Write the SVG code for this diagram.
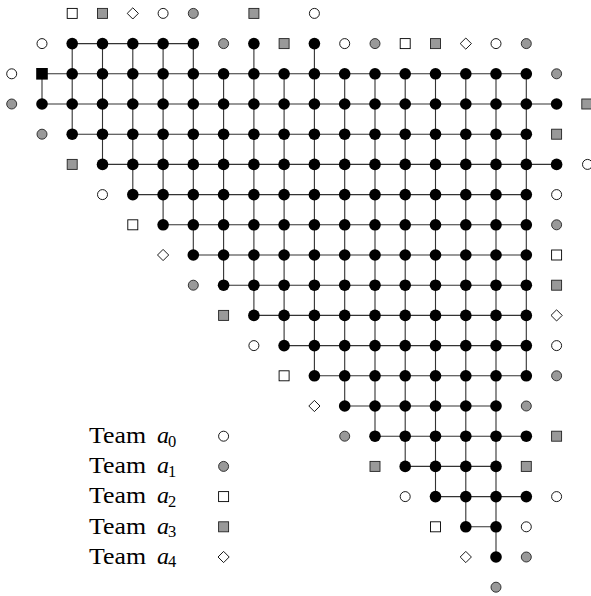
<svg xmlns="http://www.w3.org/2000/svg" xmlns:xlink="http://www.w3.org/1999/xlink" width="591" height="596" viewBox="0 0 591 596">
<style>
.edge{fill:none;stroke:#333;stroke-width:1.1}
.blk{fill:#000}
.wht{fill:#fff;stroke:#000;stroke-width:0.9}
.gry{fill:#999;stroke:#222;stroke-width:0.9}
.lbl{font-family:"Liberation Serif","Times New Roman",serif;font-size:24px;fill:#000}
.it{font-style:italic}
.sub{font-size:16.5px}
</style>
<defs>
<circle id="B" r="5.8" class="blk"/>
<rect id="K" x="-5.8" y="-5.8" width="11.6" height="11.6" class="blk"/>
<circle id="O" r="5" class="wht"/>
<circle id="G" r="5" class="gry"/>
<rect id="S" x="-5" y="-5" width="10" height="10" class="wht"/>
<rect id="Q" x="-5" y="-5" width="10" height="10" class="gry"/>
<path id="D" d="M0 -5.6 L5.6 0 L0 5.6 L-5.6 0Z" class="wht"/>
</defs>
<rect width="591" height="596" fill="#fff"/>
<g id="connectors" class="edge">
<path d="M72.2 43.6H193.3M42 73.8H526.3M42 104H556.6M72.2 134.2H526.3M102.5 164.4H556.6M132.8 194.6H526.3M163.1 224.8H526.3M193.3 255H526.3M223.6 285.2H526.3M253.9 315.4H526.3M284.1 345.6H526.3M314.4 375.8H526.3M344.7 406H496M375 436.2H526.3M405.2 466.4H496M435.5 496.6H526.3M465.8 526.8H496"/>
<path d="M42 73.8V104M72.2 43.6V134.2M102.5 43.6V164.4M132.8 43.6V194.6M163.1 43.6V224.8M193.3 43.6V255M223.6 73.8V285.2M253.9 43.6V315.4M284.1 73.8V345.6M314.4 43.6V375.8M344.7 73.8V406M375 73.8V436.2M405.2 73.8V466.4M435.5 73.8V496.6M465.8 73.8V526.8M496 73.8V557M526.3 73.8V375.8"/>
</g>
<g id="markers">
<g id="m0_2"><use href="#S" x="72.2" y="13.4"/></g>
<g id="m0_3"><use href="#Q" x="102.5" y="13.4"/></g>
<g id="m0_4"><use href="#D" x="132.8" y="13.4"/></g>
<g id="m0_5"><use href="#O" x="163.1" y="13.4"/></g>
<g id="m0_6"><use href="#G" x="193.3" y="13.4"/></g>
<g id="m0_8"><use href="#Q" x="253.9" y="13.4"/></g>
<g id="m0_10"><use href="#O" x="314.4" y="13.4"/></g>
<g id="m1_1"><use href="#O" x="42" y="43.6"/></g>
<g id="m1_7"><use href="#G" x="223.6" y="43.6"/></g>
<g id="m1_9"><use href="#Q" x="284.1" y="43.6"/></g>
<g id="m1_11"><use href="#O" x="344.7" y="43.6"/></g>
<g id="m1_12"><use href="#G" x="375" y="43.6"/></g>
<g id="m1_13"><use href="#S" x="405.2" y="43.6"/></g>
<g id="m1_14"><use href="#Q" x="435.5" y="43.6"/></g>
<g id="m1_15"><use href="#D" x="465.8" y="43.6"/></g>
<g id="m1_16"><use href="#O" x="496" y="43.6"/></g>
<g id="m1_17"><use href="#G" x="526.3" y="43.6"/></g>
<g id="m2_0"><use href="#O" x="11.7" y="73.8"/></g>
<g id="m2_18"><use href="#G" x="556.6" y="73.8"/></g>
<g id="m3_0"><use href="#G" x="11.7" y="104"/></g>
<g id="m3_19"><use href="#Q" x="586.8" y="104"/></g>
<g id="m4_1"><use href="#G" x="42" y="134.2"/></g>
<g id="m4_18"><use href="#Q" x="556.6" y="134.2"/></g>
<g id="m5_2"><use href="#Q" x="72.2" y="164.4"/></g>
<g id="m5_19"><use href="#O" x="587.5" y="164.4"/></g>
<g id="m6_3"><use href="#O" x="102.5" y="194.6"/></g>
<g id="m6_18"><use href="#O" x="556.6" y="194.6"/></g>
<g id="m7_4"><use href="#S" x="132.8" y="224.8"/></g>
<g id="m7_18"><use href="#G" x="556.6" y="224.8"/></g>
<g id="m8_5"><use href="#D" x="163.1" y="255"/></g>
<g id="m8_18"><use href="#S" x="556.6" y="255"/></g>
<g id="m9_6"><use href="#G" x="193.3" y="285.2"/></g>
<g id="m9_18"><use href="#Q" x="556.6" y="285.2"/></g>
<g id="m10_7"><use href="#Q" x="223.6" y="315.4"/></g>
<g id="m10_18"><use href="#D" x="556.6" y="315.4"/></g>
<g id="m11_8"><use href="#O" x="253.9" y="345.6"/></g>
<g id="m11_18"><use href="#O" x="556.6" y="345.6"/></g>
<g id="m12_9"><use href="#S" x="284.1" y="375.8"/></g>
<g id="m12_18"><use href="#G" x="556.6" y="375.8"/></g>
<g id="m13_10"><use href="#D" x="314.4" y="406"/></g>
<g id="m13_17"><use href="#G" x="526.3" y="406"/></g>
<g id="m14_11"><use href="#G" x="344.7" y="436.2"/></g>
<g id="m14_18"><use href="#Q" x="556.6" y="436.2"/></g>
<g id="m15_12"><use href="#Q" x="375" y="466.4"/></g>
<g id="m15_17"><use href="#Q" x="526.3" y="466.4"/></g>
<g id="m16_13"><use href="#O" x="405.2" y="496.6"/></g>
<g id="m16_18"><use href="#O" x="556.6" y="496.6"/></g>
<g id="m17_14"><use href="#S" x="435.5" y="526.8"/></g>
<g id="m17_17"><use href="#O" x="526.3" y="526.8"/></g>
<g id="m18_15"><use href="#D" x="465.8" y="557"/></g>
<g id="m18_17"><use href="#G" x="526.3" y="557"/></g>
<g id="m19_16"><use href="#G" x="496" y="587.2"/></g>
</g>
<g id="nodes">
<g id="n1_2"><use href="#B" x="72.2" y="43.6"/></g>
<g id="n1_3"><use href="#B" x="102.5" y="43.6"/></g>
<g id="n1_4"><use href="#B" x="132.8" y="43.6"/></g>
<g id="n1_5"><use href="#B" x="163.1" y="43.6"/></g>
<g id="n1_6"><use href="#B" x="193.3" y="43.6"/></g>
<g id="n1_8"><use href="#B" x="253.9" y="43.6"/></g>
<g id="n1_10"><use href="#B" x="314.4" y="43.6"/></g>
<g id="n2_1"><use href="#K" x="42" y="73.8"/></g>
<g id="n2_2"><use href="#B" x="72.2" y="73.8"/></g>
<g id="n2_3"><use href="#B" x="102.5" y="73.8"/></g>
<g id="n2_4"><use href="#B" x="132.8" y="73.8"/></g>
<g id="n2_5"><use href="#B" x="163.1" y="73.8"/></g>
<g id="n2_6"><use href="#B" x="193.3" y="73.8"/></g>
<g id="n2_7"><use href="#B" x="223.6" y="73.8"/></g>
<g id="n2_8"><use href="#B" x="253.9" y="73.8"/></g>
<g id="n2_9"><use href="#B" x="284.1" y="73.8"/></g>
<g id="n2_10"><use href="#B" x="314.4" y="73.8"/></g>
<g id="n2_11"><use href="#B" x="344.7" y="73.8"/></g>
<g id="n2_12"><use href="#B" x="375" y="73.8"/></g>
<g id="n2_13"><use href="#B" x="405.2" y="73.8"/></g>
<g id="n2_14"><use href="#B" x="435.5" y="73.8"/></g>
<g id="n2_15"><use href="#B" x="465.8" y="73.8"/></g>
<g id="n2_16"><use href="#B" x="496" y="73.8"/></g>
<g id="n2_17"><use href="#B" x="526.3" y="73.8"/></g>
<g id="n3_1"><use href="#B" x="42" y="104"/></g>
<g id="n3_2"><use href="#B" x="72.2" y="104"/></g>
<g id="n3_3"><use href="#B" x="102.5" y="104"/></g>
<g id="n3_4"><use href="#B" x="132.8" y="104"/></g>
<g id="n3_5"><use href="#B" x="163.1" y="104"/></g>
<g id="n3_6"><use href="#B" x="193.3" y="104"/></g>
<g id="n3_7"><use href="#B" x="223.6" y="104"/></g>
<g id="n3_8"><use href="#B" x="253.9" y="104"/></g>
<g id="n3_9"><use href="#B" x="284.1" y="104"/></g>
<g id="n3_10"><use href="#B" x="314.4" y="104"/></g>
<g id="n3_11"><use href="#B" x="344.7" y="104"/></g>
<g id="n3_12"><use href="#B" x="375" y="104"/></g>
<g id="n3_13"><use href="#B" x="405.2" y="104"/></g>
<g id="n3_14"><use href="#B" x="435.5" y="104"/></g>
<g id="n3_15"><use href="#B" x="465.8" y="104"/></g>
<g id="n3_16"><use href="#B" x="496" y="104"/></g>
<g id="n3_17"><use href="#B" x="526.3" y="104"/></g>
<g id="n3_18"><use href="#B" x="556.6" y="104"/></g>
<g id="n4_2"><use href="#B" x="72.2" y="134.2"/></g>
<g id="n4_3"><use href="#B" x="102.5" y="134.2"/></g>
<g id="n4_4"><use href="#B" x="132.8" y="134.2"/></g>
<g id="n4_5"><use href="#B" x="163.1" y="134.2"/></g>
<g id="n4_6"><use href="#B" x="193.3" y="134.2"/></g>
<g id="n4_7"><use href="#B" x="223.6" y="134.2"/></g>
<g id="n4_8"><use href="#B" x="253.9" y="134.2"/></g>
<g id="n4_9"><use href="#B" x="284.1" y="134.2"/></g>
<g id="n4_10"><use href="#B" x="314.4" y="134.2"/></g>
<g id="n4_11"><use href="#B" x="344.7" y="134.2"/></g>
<g id="n4_12"><use href="#B" x="375" y="134.2"/></g>
<g id="n4_13"><use href="#B" x="405.2" y="134.2"/></g>
<g id="n4_14"><use href="#B" x="435.5" y="134.2"/></g>
<g id="n4_15"><use href="#B" x="465.8" y="134.2"/></g>
<g id="n4_16"><use href="#B" x="496" y="134.2"/></g>
<g id="n4_17"><use href="#B" x="526.3" y="134.2"/></g>
<g id="n5_3"><use href="#B" x="102.5" y="164.4"/></g>
<g id="n5_4"><use href="#B" x="132.8" y="164.4"/></g>
<g id="n5_5"><use href="#B" x="163.1" y="164.4"/></g>
<g id="n5_6"><use href="#B" x="193.3" y="164.4"/></g>
<g id="n5_7"><use href="#B" x="223.6" y="164.4"/></g>
<g id="n5_8"><use href="#B" x="253.9" y="164.4"/></g>
<g id="n5_9"><use href="#B" x="284.1" y="164.4"/></g>
<g id="n5_10"><use href="#B" x="314.4" y="164.4"/></g>
<g id="n5_11"><use href="#B" x="344.7" y="164.4"/></g>
<g id="n5_12"><use href="#B" x="375" y="164.4"/></g>
<g id="n5_13"><use href="#B" x="405.2" y="164.4"/></g>
<g id="n5_14"><use href="#B" x="435.5" y="164.4"/></g>
<g id="n5_15"><use href="#B" x="465.8" y="164.4"/></g>
<g id="n5_16"><use href="#B" x="496" y="164.4"/></g>
<g id="n5_17"><use href="#B" x="526.3" y="164.4"/></g>
<g id="n5_18"><use href="#B" x="556.6" y="164.4"/></g>
<g id="n6_4"><use href="#B" x="132.8" y="194.6"/></g>
<g id="n6_5"><use href="#B" x="163.1" y="194.6"/></g>
<g id="n6_6"><use href="#B" x="193.3" y="194.6"/></g>
<g id="n6_7"><use href="#B" x="223.6" y="194.6"/></g>
<g id="n6_8"><use href="#B" x="253.9" y="194.6"/></g>
<g id="n6_9"><use href="#B" x="284.1" y="194.6"/></g>
<g id="n6_10"><use href="#B" x="314.4" y="194.6"/></g>
<g id="n6_11"><use href="#B" x="344.7" y="194.6"/></g>
<g id="n6_12"><use href="#B" x="375" y="194.6"/></g>
<g id="n6_13"><use href="#B" x="405.2" y="194.6"/></g>
<g id="n6_14"><use href="#B" x="435.5" y="194.6"/></g>
<g id="n6_15"><use href="#B" x="465.8" y="194.6"/></g>
<g id="n6_16"><use href="#B" x="496" y="194.6"/></g>
<g id="n6_17"><use href="#B" x="526.3" y="194.6"/></g>
<g id="n7_5"><use href="#B" x="163.1" y="224.8"/></g>
<g id="n7_6"><use href="#B" x="193.3" y="224.8"/></g>
<g id="n7_7"><use href="#B" x="223.6" y="224.8"/></g>
<g id="n7_8"><use href="#B" x="253.9" y="224.8"/></g>
<g id="n7_9"><use href="#B" x="284.1" y="224.8"/></g>
<g id="n7_10"><use href="#B" x="314.4" y="224.8"/></g>
<g id="n7_11"><use href="#B" x="344.7" y="224.8"/></g>
<g id="n7_12"><use href="#B" x="375" y="224.8"/></g>
<g id="n7_13"><use href="#B" x="405.2" y="224.8"/></g>
<g id="n7_14"><use href="#B" x="435.5" y="224.8"/></g>
<g id="n7_15"><use href="#B" x="465.8" y="224.8"/></g>
<g id="n7_16"><use href="#B" x="496" y="224.8"/></g>
<g id="n7_17"><use href="#B" x="526.3" y="224.8"/></g>
<g id="n8_6"><use href="#B" x="193.3" y="255"/></g>
<g id="n8_7"><use href="#B" x="223.6" y="255"/></g>
<g id="n8_8"><use href="#B" x="253.9" y="255"/></g>
<g id="n8_9"><use href="#B" x="284.1" y="255"/></g>
<g id="n8_10"><use href="#B" x="314.4" y="255"/></g>
<g id="n8_11"><use href="#B" x="344.7" y="255"/></g>
<g id="n8_12"><use href="#B" x="375" y="255"/></g>
<g id="n8_13"><use href="#B" x="405.2" y="255"/></g>
<g id="n8_14"><use href="#B" x="435.5" y="255"/></g>
<g id="n8_15"><use href="#B" x="465.8" y="255"/></g>
<g id="n8_16"><use href="#B" x="496" y="255"/></g>
<g id="n8_17"><use href="#B" x="526.3" y="255"/></g>
<g id="n9_7"><use href="#B" x="223.6" y="285.2"/></g>
<g id="n9_8"><use href="#B" x="253.9" y="285.2"/></g>
<g id="n9_9"><use href="#B" x="284.1" y="285.2"/></g>
<g id="n9_10"><use href="#B" x="314.4" y="285.2"/></g>
<g id="n9_11"><use href="#B" x="344.7" y="285.2"/></g>
<g id="n9_12"><use href="#B" x="375" y="285.2"/></g>
<g id="n9_13"><use href="#B" x="405.2" y="285.2"/></g>
<g id="n9_14"><use href="#B" x="435.5" y="285.2"/></g>
<g id="n9_15"><use href="#B" x="465.8" y="285.2"/></g>
<g id="n9_16"><use href="#B" x="496" y="285.2"/></g>
<g id="n9_17"><use href="#B" x="526.3" y="285.2"/></g>
<g id="n10_8"><use href="#B" x="253.9" y="315.4"/></g>
<g id="n10_9"><use href="#B" x="284.1" y="315.4"/></g>
<g id="n10_10"><use href="#B" x="314.4" y="315.4"/></g>
<g id="n10_11"><use href="#B" x="344.7" y="315.4"/></g>
<g id="n10_12"><use href="#B" x="375" y="315.4"/></g>
<g id="n10_13"><use href="#B" x="405.2" y="315.4"/></g>
<g id="n10_14"><use href="#B" x="435.5" y="315.4"/></g>
<g id="n10_15"><use href="#B" x="465.8" y="315.4"/></g>
<g id="n10_16"><use href="#B" x="496" y="315.4"/></g>
<g id="n10_17"><use href="#B" x="526.3" y="315.4"/></g>
<g id="n11_9"><use href="#B" x="284.1" y="345.6"/></g>
<g id="n11_10"><use href="#B" x="314.4" y="345.6"/></g>
<g id="n11_11"><use href="#B" x="344.7" y="345.6"/></g>
<g id="n11_12"><use href="#B" x="375" y="345.6"/></g>
<g id="n11_13"><use href="#B" x="405.2" y="345.6"/></g>
<g id="n11_14"><use href="#B" x="435.5" y="345.6"/></g>
<g id="n11_15"><use href="#B" x="465.8" y="345.6"/></g>
<g id="n11_16"><use href="#B" x="496" y="345.6"/></g>
<g id="n11_17"><use href="#B" x="526.3" y="345.6"/></g>
<g id="n12_10"><use href="#B" x="314.4" y="375.8"/></g>
<g id="n12_11"><use href="#B" x="344.7" y="375.8"/></g>
<g id="n12_12"><use href="#B" x="375" y="375.8"/></g>
<g id="n12_13"><use href="#B" x="405.2" y="375.8"/></g>
<g id="n12_14"><use href="#B" x="435.5" y="375.8"/></g>
<g id="n12_15"><use href="#B" x="465.8" y="375.8"/></g>
<g id="n12_16"><use href="#B" x="496" y="375.8"/></g>
<g id="n12_17"><use href="#B" x="526.3" y="375.8"/></g>
<g id="n13_11"><use href="#B" x="344.7" y="406"/></g>
<g id="n13_12"><use href="#B" x="375" y="406"/></g>
<g id="n13_13"><use href="#B" x="405.2" y="406"/></g>
<g id="n13_14"><use href="#B" x="435.5" y="406"/></g>
<g id="n13_15"><use href="#B" x="465.8" y="406"/></g>
<g id="n13_16"><use href="#B" x="496" y="406"/></g>
<g id="n14_12"><use href="#B" x="375" y="436.2"/></g>
<g id="n14_13"><use href="#B" x="405.2" y="436.2"/></g>
<g id="n14_14"><use href="#B" x="435.5" y="436.2"/></g>
<g id="n14_15"><use href="#B" x="465.8" y="436.2"/></g>
<g id="n14_16"><use href="#B" x="496" y="436.2"/></g>
<g id="n14_17"><use href="#B" x="526.3" y="436.2"/></g>
<g id="n15_13"><use href="#B" x="405.2" y="466.4"/></g>
<g id="n15_14"><use href="#B" x="435.5" y="466.4"/></g>
<g id="n15_15"><use href="#B" x="465.8" y="466.4"/></g>
<g id="n15_16"><use href="#B" x="496" y="466.4"/></g>
<g id="n16_14"><use href="#B" x="435.5" y="496.6"/></g>
<g id="n16_15"><use href="#B" x="465.8" y="496.6"/></g>
<g id="n16_16"><use href="#B" x="496" y="496.6"/></g>
<g id="n16_17"><use href="#B" x="526.3" y="496.6"/></g>
<g id="n17_15"><use href="#B" x="465.8" y="526.8"/></g>
<g id="n17_16"><use href="#B" x="496" y="526.8"/></g>
<g id="n18_16"><use href="#B" x="496" y="557"/></g>
</g>
<g id="legend">
<g id="leg0"><text class="lbl" x="89" y="443"><tspan textLength="57" lengthAdjust="spacingAndGlyphs">Team</tspan> <tspan class="it" x="157">a</tspan><tspan class="sub" x="168" dy="3.5">0</tspan></text><use href="#O" x="223.6" y="436.2"/></g>
<g id="leg1"><text class="lbl" x="89" y="473.2"><tspan textLength="57" lengthAdjust="spacingAndGlyphs">Team</tspan> <tspan class="it" x="157">a</tspan><tspan class="sub" x="168" dy="3.5">1</tspan></text><use href="#G" x="223.6" y="466.4"/></g>
<g id="leg2"><text class="lbl" x="89" y="503.4"><tspan textLength="57" lengthAdjust="spacingAndGlyphs">Team</tspan> <tspan class="it" x="157">a</tspan><tspan class="sub" x="168" dy="3.5">2</tspan></text><use href="#S" x="223.6" y="496.6"/></g>
<g id="leg3"><text class="lbl" x="89" y="533.6"><tspan textLength="57" lengthAdjust="spacingAndGlyphs">Team</tspan> <tspan class="it" x="157">a</tspan><tspan class="sub" x="168" dy="3.5">3</tspan></text><use href="#Q" x="223.6" y="526.8"/></g>
<g id="leg4"><text class="lbl" x="89" y="563.8"><tspan textLength="57" lengthAdjust="spacingAndGlyphs">Team</tspan> <tspan class="it" x="157">a</tspan><tspan class="sub" x="168" dy="3.5">4</tspan></text><use href="#D" x="223.6" y="557"/></g>
</g>
</svg>
